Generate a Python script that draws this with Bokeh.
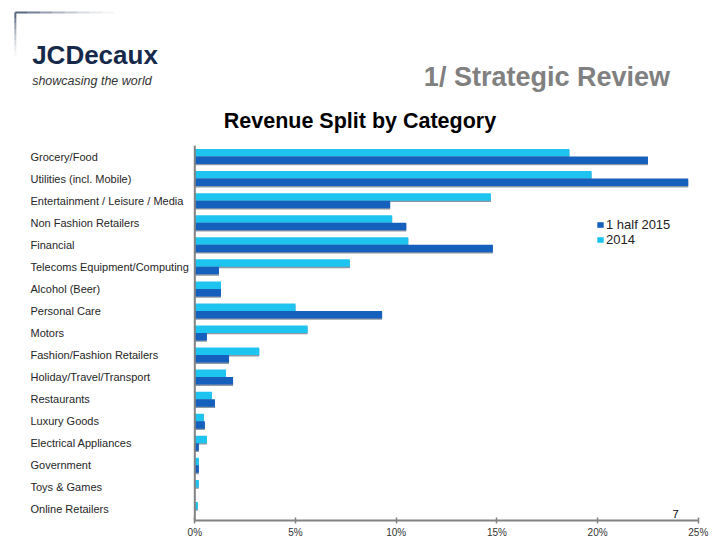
from bokeh.plotting import figure
from bokeh.layouts import column
from bokeh.models import (FactorRange, Range1d, Span, Label, Legend, LegendItem,
                          FixedTicker, ColumnDataSource)
from bokeh.transform import dodge
from bokeh.core.properties import value
from bokeh.embed import file_html
from bokeh.resources import INLINE

# ---------------- data ----------------
categories = ["Grocery/Food", "Utilities (incl. Mobile)", "Entertainment / Leisure / Media",
              "Non Fashion Retailers", "Financial", "Telecoms Equipment/Computing",
              "Alcohol (Beer)", "Personal Care", "Motors", "Fashion/Fashion Retailers",
              "Holiday/Travel/Transport", "Restaurants", "Luxury Goods",
              "Electrical Appliances", "Government", "Toys & Games", "Online Retailers"]
share_h1_2015 = [22.5, 24.5, 9.7, 10.5, 14.8, 1.2, 1.3, 9.3, 0.6, 1.7, 1.9, 1.0, 0.5,
                 0.2, 0.2, 0.0, 0.0]
share_2014 = [18.6, 19.7, 14.7, 9.8, 10.6, 7.7, 1.3, 5.0, 5.6, 3.2, 1.55, 0.85, 0.45,
              0.6, 0.2, 0.2, 0.15]
series_names = ["1 half 2015", "2014"]
x_ticks = [0, 5, 10, 15, 20, 25]
x_tick_labels = ["0%", "5%", "10%", "15%", "20%", "25%"]
page_number = "7"

# ---------------- style ----------------
W = 720
HEAD_H = 145
CHART_H = 540 - HEAD_H
B_BOT, B_RIGHT = 19, 8
DARK = "#1660bd"
CYAN = "#1ec4f0"
SHADOW = "#8e99a5"
AXIS = "#828282"
FONT = "Liberation Sans"
X_START, X_END = -9.648, 25.705

# ---------------- header (logo + titles) ----------------
head = figure(width=W, height=HEAD_H, output_backend="svg", toolbar_location=None,
              x_range=Range1d(0, W), y_range=Range1d(HEAD_H, 0),
              x_axis_location=None, y_axis_location=None, min_border=0)
head.outline_line_color = None
head.grid.visible = False

# fading corner lines
fade = [0.85, 0.7, 0.55, 0.42, 0.3, 0.2, 0.12, 0.06]
for i, a in enumerate(fade):
    head.segment(x0=[15 + i * 12.5], y0=[12], x1=[15 + (i + 1) * 12.5], y1=[12],
                 line_color="#3d4f6c", line_alpha=a, line_width=2)
    head.segment(x0=[15], y0=[12 + i * 5.5], x1=[15], y1=[12 + (i + 1) * 5.5],
                 line_color="#3d4f6c", line_alpha=a, line_width=2)

head.text(x=[32], y=[54], text=["JCDecaux"], text_font=value(FONT), text_font_size="26px",
          text_font_style="bold", text_color="#16294a", text_baseline="alphabetic")
head.text(x=[32], y=[80], text=["showcasing the world"], text_font=value(FONT),
          text_font_size="12.5px", text_font_style="italic", text_color="#333333",
          text_baseline="alphabetic")
head.text(x=[677], y=[76], text=["1/ Strategic Review"], text_font=value(FONT),
          text_font_size="27px", text_font_style="bold", text_color="#808080",
          text_align="right", text_baseline="alphabetic")
head.text(x=[363.5], y=[120], text=["Revenue Split by Category"], text_font=value(FONT),
          text_font_size="21.5px", text_font_style="bold", text_color="#000000",
          text_align="center", text_baseline="alphabetic")

# ---------------- chart ----------------
src = ColumnDataSource(dict(cat=categories, h15=share_h1_2015, y14=share_2014,
                            lx=[X_START] * len(categories)))

p = figure(width=W, height=CHART_H, output_backend="svg", toolbar_location=None,
           x_range=Range1d(X_START, X_END), y_range=FactorRange(factors=categories[::-1]),
           y_axis_location=None, min_border_left=0, min_border_right=B_RIGHT,
           min_border_top=0, min_border_bottom=B_BOT)
p.outline_line_color = None
p.xgrid.grid_line_color = None
p.ygrid.grid_line_color = None

# shadows under bars
p.hbar(y=dodge("cat", 0.17 - 0.06, range=p.y_range), left=0, right="y14", height=0.34,
       source=src, fill_color=SHADOW, line_color=None)
p.hbar(y=dodge("cat", -0.17 - 0.06, range=p.y_range), left=0, right="h15", height=0.34,
       source=src, fill_color=SHADOW, line_color=None)
r14 = p.hbar(y=dodge("cat", 0.17, range=p.y_range), left=0, right="y14", height=0.34,
             source=src, fill_color=CYAN, line_color=None)
r15 = p.hbar(y=dodge("cat", -0.17, range=p.y_range), left=0, right="h15", height=0.34,
             source=src, fill_color=DARK, line_color=None)

# category labels (left aligned)
p.text(x="lx", y="cat", text="cat", source=src, x_offset=30, text_baseline="middle",
       text_align="left", text_font=value(FONT), text_font_size="11px", text_color="#262626")

# vertical axis line
p.add_layout(Span(location=0, dimension="height", line_color=AXIS, line_width=2))

# x axis
ax = p.xaxis[0]
ax.ticker = FixedTicker(ticks=x_ticks)
ax.major_label_overrides = {t: l for t, l in zip(x_ticks, x_tick_labels)}
ax.bounds = (0, 25)
ax.axis_line_color = AXIS
ax.axis_line_width = 2
ax.major_tick_line_color = AXIS
ax.major_tick_line_width = 1.5
ax.major_tick_in = 3
ax.major_tick_out = 3
ax.minor_tick_line_color = None
ax.major_label_standoff = 3
ax.major_label_text_font = FONT
ax.major_label_text_font_size = "10px"
ax.major_label_text_color = "#333333"

# legend
legend = Legend(items=[LegendItem(label=series_names[0], renderers=[r15]),
                       LegendItem(label=series_names[1], renderers=[r14])],
                location=(596, 273), orientation="vertical",
                glyph_width=8, glyph_height=7, label_height=14, label_standoff=2,
                spacing=0, padding=0, margin=0, border_line_color=None,
                background_fill_alpha=0, label_text_font=FONT,
                label_text_font_size="13px", label_text_color="#222222")
p.add_layout(legend)

p.add_layout(Label(x=675, y=7, x_units="screen", y_units="screen", text=page_number,
                   text_font=FONT, text_font_size="11px", text_color="#000000",
                   text_align="center", text_baseline="alphabetic"))

layout = column(head, p, spacing=0)
open("out.html", "w").write(file_html(layout, INLINE))
